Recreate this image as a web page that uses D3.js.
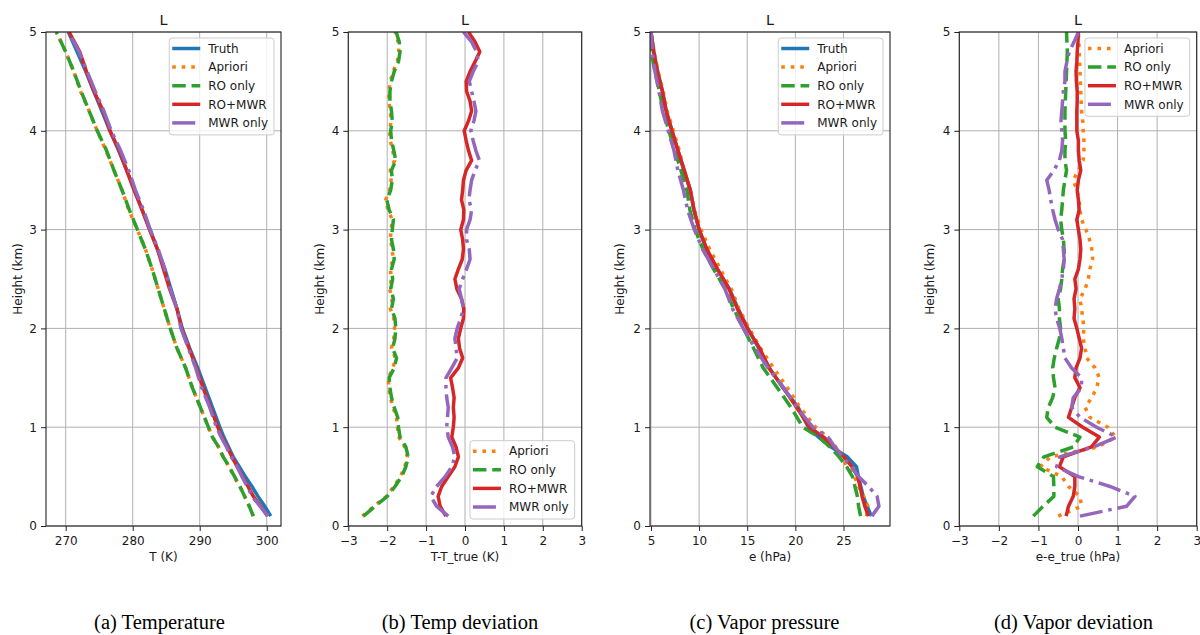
<!DOCTYPE html>
<html><head><meta charset="utf-8">
<script src="https://cdn.jsdelivr.net/npm/d3@7"></script>
<style>body{margin:0;background:#fff} text{font-family:"DejaVu Sans",sans-serif;fill:#1a1a1a} text.caption{font-family:"Liberation Serif","Times New Roman",serif;fill:#000}</style>
</head><body><svg id="chart" width="1200" height="635"></svg>
<script>
// ---------------- DATA ----------------
const heightsProf = [0.1,0.2,0.3,0.4,0.5,0.6,0.7,0.8,0.9,1.0,1.2,1.4,1.6,1.8,2.0,2.2,2.4,2.6,2.8,3.0,3.2,3.4,3.6,3.8,4.0,4.2,4.4,4.6,4.8,5.0];
const heightsDev = [0.1,0.2,0.3,0.4,0.5,0.6,0.7,0.8,0.9,1.0,1.1,1.2,1.3,1.4,1.5,1.6,1.7,1.8,1.9,2.0,2.1,2.2,2.3,2.4,2.5,2.6,2.7,2.8,2.9,3.0,3.1,3.2,3.3,3.4,3.5,3.6,3.7,3.8,3.9,4.0,4.1,4.2,4.3,4.4,4.5,4.6,4.7,4.8,4.9,5.0];

// (a) Temperature (K)
const tempTruth   = [300.6,299.7,298.7,297.8,296.8,295.9,295.0,294.3,293.6,293.0,291.9,290.8,289.7,288.5,287.4,286.6,285.7,284.8,283.7,282.6,281.4,280.3,279.1,277.9,276.6,275.4,274.2,273.0,271.7,270.4];
const tempApriori = [298.0,297.4,296.7,296.0,295.1,294.4,293.5,292.8,291.9,291.3,290.1,288.9,287.9,286.6,285.6,284.7,283.8,282.9,281.9,280.7,279.4,278.4,277.2,276.0,274.7,273.5,272.2,271.2,270.0,268.6];
const tempRO      = [298.0,297.4,296.7,296.0,295.2,294.4,293.5,292.8,291.9,291.3,290.1,288.9,287.9,286.6,285.6,284.7,283.8,282.9,281.9,280.7,279.5,278.4,277.2,276.1,274.7,273.5,272.3,271.2,270.0,268.6];
const tempRoMwr   = [300.1,299.1,298.0,297.2,296.4,295.6,294.8,294.1,293.3,292.7,291.6,290.5,289.5,288.4,287.3,286.6,285.5,284.6,283.7,282.5,281.4,280.2,279.1,278.0,276.6,275.6,274.2,273.1,272.1,270.5];
const tempMwr     = [300.2,299.0,297.8,297.1,296.3,295.6,294.7,294.0,293.2,292.5,291.5,290.3,289.4,288.3,287.2,286.6,285.6,284.8,283.8,282.6,281.6,280.4,279.4,278.2,276.8,275.7,274.4,273.2,272.0,270.4];

// (b) Temperature deviation (K)
const tDevApriori = [-2.64,-2.34,-2.02,-1.83,-1.66,-1.55,-1.48,-1.55,-1.70,-1.74,-1.76,-1.85,-1.92,-1.96,-1.97,-1.85,-1.79,-1.89,-1.83,-1.81,-1.83,-1.92,-1.87,-1.94,-1.89,-1.92,-1.85,-1.87,-1.92,-1.90,-1.87,-1.98,-2.04,-1.94,-1.90,-1.92,-1.81,-1.86,-1.92,-1.94,-1.90,-1.92,-1.96,-1.96,-1.92,-1.85,-1.74,-1.70,-1.72,-1.80];
const tDevRO      = [-2.61,-2.31,-2.00,-1.80,-1.63,-1.52,-1.46,-1.52,-1.67,-1.71,-1.73,-1.82,-1.89,-1.93,-1.95,-1.82,-1.76,-1.86,-1.80,-1.78,-1.80,-1.89,-1.84,-1.91,-1.86,-1.89,-1.82,-1.84,-1.89,-1.87,-1.84,-1.95,-2.01,-1.91,-1.87,-1.89,-1.78,-1.83,-1.89,-1.91,-1.87,-1.89,-1.93,-1.93,-1.89,-1.82,-1.71,-1.67,-1.69,-1.77];
const tDevRoMwr   = [-0.49,-0.64,-0.69,-0.60,-0.43,-0.26,-0.17,-0.23,-0.34,-0.30,-0.28,-0.30,-0.28,-0.32,-0.37,-0.17,-0.06,-0.14,-0.17,-0.11,-0.04,-0.03,-0.09,-0.21,-0.26,-0.17,-0.07,-0.04,-0.06,-0.11,-0.04,-0.03,-0.09,-0.06,-0.04,0.03,0.17,0.09,0.03,-0.02,0.09,0.17,0.13,0.04,0.03,0.13,0.26,0.38,0.26,0.09];
const tDevMwr     = [-0.43,-0.73,-0.88,-0.73,-0.51,-0.34,-0.26,-0.32,-0.43,-0.47,-0.45,-0.43,-0.47,-0.49,-0.49,-0.34,-0.20,-0.23,-0.26,-0.20,-0.11,-0.04,-0.09,-0.15,-0.06,0.04,0.13,0.11,0.04,0.04,0.13,0.17,0.10,0.13,0.17,0.26,0.37,0.28,0.21,0.15,0.23,0.28,0.23,0.17,0.11,0.21,0.34,0.30,0.17,-0.04];

// (c) Vapor pressure (hPa)
const vapTruth   = [27.9,27.45,27.05,26.8,26.55,26.35,25.4,23.7,22.4,21.35,20.3,18.7,17.3,16.2,15.05,14.05,13.15,11.9,10.75,10.0,9.45,9.1,8.4,7.8,7.2,6.6,6.2,5.7,5.3,5.0];
const vapApriori = [27.4,27.54,27.1,26.56,26.14,25.4,24.7,24.2,23.35,22.1,20.48,19.17,17.73,16.38,15.2,14.14,13.33,12.2,11.1,10.2,9.5,9.07,8.41,7.95,7.33,6.69,6.27,5.75,5.33,5.01];
const vapRO      = [26.77,26.57,26.44,26.19,25.93,25.32,24.54,23.58,22.45,20.77,19.55,18.12,16.66,15.66,14.61,13.58,12.71,11.51,10.4,9.59,9.04,8.73,8.11,7.47,6.87,6.27,5.89,5.41,5.03,4.71];
const vapRoMwr   = [27.6,27.21,26.93,26.72,26.47,25.88,25.03,24.04,22.94,21.47,20.14,18.75,17.25,16.29,15.02,13.97,13.1,11.91,10.82,10.01,9.48,9.08,8.47,7.81,7.17,6.57,6.18,5.65,5.28,5.01];
const vapMwr     = [27.95,28.68,28.49,27.61,26.56,25.81,24.94,24.09,23.38,21.82,20.14,18.79,17.14,15.83,14.59,13.47,12.68,11.53,10.38,9.5,8.81,8.37,7.79,7.39,6.79,6.19,5.83,5.41,5.14,5.01];

// (d) Vapor deviation (hPa)
const eDevApriori = [-0.50,0.09,0.05,-0.24,-0.41,-0.95,-0.70,0.50,0.95,0.75,0.30,0.18,0.35,0.47,0.54,0.43,0.22,0.18,0.13,0.15,0.12,0.09,0.05,0.18,0.26,0.30,0.37,0.35,0.29,0.20,0.09,0.05,0.03,-0.03,-0.12,0.01,0.13,0.15,0.15,0.13,0.12,0.09,0.08,0.07,0.06,0.05,0.04,0.03,0.02,0.01];
const eDevRO      = [-1.13,-0.88,-0.61,-0.61,-0.62,-1.03,-0.86,-0.12,0.05,-0.58,-0.79,-0.75,-0.64,-0.58,-0.62,-0.64,-0.60,-0.54,-0.47,-0.44,-0.47,-0.47,-0.50,-0.44,-0.41,-0.39,-0.35,-0.35,-0.37,-0.41,-0.44,-0.41,-0.39,-0.37,-0.33,-0.29,-0.33,-0.33,-0.31,-0.33,-0.33,-0.33,-0.32,-0.31,-0.30,-0.29,-0.28,-0.27,-0.28,-0.29];
const eDevRoMwr   = [-0.30,-0.24,-0.12,-0.08,-0.08,-0.47,-0.37,0.34,0.54,0.12,-0.24,-0.16,-0.08,0.05,-0.08,-0.05,0.05,0.09,0.03,-0.03,-0.10,-0.08,-0.10,-0.05,-0.08,0.01,0.05,0.07,0.05,0.01,-0.03,0.03,0.01,-0.02,0.01,0.07,0.03,0.01,0.01,-0.03,-0.03,-0.03,-0.02,-0.02,-0.04,-0.05,-0.03,-0.02,0.00,0.01];
const eDevMwr     = [0.05,1.23,1.44,0.81,0.01,-0.54,-0.46,0.39,0.98,0.47,0.05,-0.16,-0.12,0.09,0.09,-0.16,-0.33,-0.37,-0.41,-0.46,-0.54,-0.58,-0.54,-0.47,-0.41,-0.37,-0.35,-0.37,-0.39,-0.50,-0.58,-0.64,-0.69,-0.73,-0.79,-0.61,-0.47,-0.41,-0.39,-0.41,-0.43,-0.41,-0.39,-0.37,-0.33,-0.33,-0.28,-0.22,-0.10,0.01];

const yTicks = [0,1,2,3,4,5];
const xTicksTemp = [270,280,290,300];
const xTicksDev = [-3,-2,-1,0,1,2,3];
const xTicksVap = [5,10,15,20,25];
const panelTitle = "L";
const yLabel = "Height (km)";
const xLabels = ["T (K)","T-T_true (K)","e (hPa)","e-e_true (hPa)"];
const captions = ["(a) Temperature","(b) Temp deviation","(c) Vapor pressure","(d) Vapor deviation"];

// ---------------- STYLE ----------------
const LW = 3.5;
const style = {
  "Truth":    {color:"#1f77b4", dash:null},
  "Apriori":  {color:"#ff7f0e", dash:"3.6,5.9"},
  "RO only":  {color:"#2ca02c", dash:"13.5,5.8"},
  "RO+MWR":   {color:"#d62728", dash:null},
  "MWR only": {color:"#9467bd", dash:"23,5.8,3.6,5.8"}
};
const TOP = 32, BOTTOM = 526;

const panels = [
  {left:46, right:281, domain:[267.06,302.13], ticks:xTicksTemp, heights:heightsProf,
   series:[["Truth",tempTruth],["Apriori",tempApriori],["RO only",tempRO],["RO+MWR",tempRoMwr],["MWR only",tempMwr]],
   legend:"upper", ylabX:21.5, capX:159.5},
  {left:348.3, right:581.7, domain:[-3,3], ticks:xTicksDev, heights:heightsDev,
   series:[["Apriori",tDevApriori],["RO only",tDevRO],["RO+MWR",tDevRoMwr],["MWR only",tDevMwr]],
   legend:"lower", ylabX:323.5, capX:460},
  {left:650, right:890, domain:[4.9,29.83], ticks:xTicksVap, heights:heightsProf,
   series:[["Truth",vapTruth],["Apriori",vapApriori],["RO only",vapRO],["RO+MWR",vapRoMwr],["MWR only",vapMwr]],
   legend:"upper", ylabX:623.5, capX:764.5},
  {left:959.3, right:1196.7, domain:[-3,3], ticks:xTicksDev, heights:heightsDev,
   series:[["Apriori",eDevApriori],["RO only",eDevRO],["RO+MWR",eDevRoMwr],["MWR only",eDevMwr]],
   legend:"upper", ylabX:934, capX:1073.5}
];

const svg = d3.select("#chart");
const fmt = d3.format("");

panels.forEach((p, i) => {
  const x = d3.scaleLinear().domain(p.domain).range([p.left, p.right]);
  const y = d3.scaleLinear().domain([0,5]).range([BOTTOM, TOP]);
  const g = svg.append("g");

  const cid = "clip"+i;
  svg.append("clipPath").attr("id", cid).append("rect")
    .attr("x", p.left).attr("y", TOP).attr("width", p.right-p.left).attr("height", BOTTOM-TOP);

  // grid
  g.append("g").selectAll("line").data(p.ticks).join("line")
    .attr("x1", d=>x(d)).attr("x2", d=>x(d)).attr("y1", TOP).attr("y2", BOTTOM)
    .attr("stroke","#b0b0b0").attr("stroke-width",1);
  g.append("g").selectAll("line").data(yTicks).join("line")
    .attr("x1", p.left).attr("x2", p.right).attr("y1", d=>y(d)).attr("y2", d=>y(d))
    .attr("stroke","#b0b0b0").attr("stroke-width",1);

  // series
  const line = d3.line().x(d=>x(d[0])).y(d=>y(d[1]));
  const lg = g.append("g").attr("clip-path", `url(#${cid})`);
  p.series.forEach(([name, vals]) => {
    const pts = vals.map((v,k)=>[v, p.heights[k]]);
    const s = style[name];
    lg.append("path").datum(pts).attr("d", line)
      .attr("fill","none").attr("stroke", s.color).attr("stroke-width", LW)
      .attr("stroke-linejoin","round").attr("stroke-linecap","butt")
      .attr("stroke-dasharray", s.dash);
  });

  // axes
  const ax = g.append("g").attr("transform",`translate(0,${BOTTOM})`)
    .call(d3.axisBottom(x).tickValues(p.ticks).tickFormat(fmt).tickSize(5).tickPadding(5));
  const ay = g.append("g").attr("transform",`translate(${p.left},0)`)
    .call(d3.axisLeft(y).tickValues(yTicks).tickFormat(fmt).tickSize(5).tickPadding(4));
  [ax, ay].forEach(a => {
    a.select(".domain").remove();
    a.selectAll(".tick line").attr("stroke","#222").attr("stroke-width",1);
    a.selectAll(".tick text").attr("font-size",12).attr("font-family","DejaVu Sans").attr("fill","#1a1a1a");
  });

  // spines
  g.append("rect").attr("x",p.left).attr("y",TOP).attr("width",p.right-p.left).attr("height",BOTTOM-TOP)
    .attr("fill","none").attr("stroke","#222").attr("stroke-width",1.1);

  // title, labels
  const cx = (p.left+p.right)/2;
  g.append("text").attr("x",cx).attr("y",25).attr("text-anchor","middle").attr("font-size",14.4).text(panelTitle);
  g.append("text").attr("x",cx).attr("y",561).attr("text-anchor","middle").attr("font-size",12).text(xLabels[i]);
  g.append("text").attr("transform",`translate(${p.ylabX},${(TOP+BOTTOM)/2}) rotate(-90)`)
    .attr("text-anchor","middle").attr("font-size",12).text(yLabel);
  svg.append("text").attr("class","caption").attr("x",p.capX).attr("y",629).attr("text-anchor","middle")
    .attr("font-size",20.5).text(captions[i]);

  // legend
  const names = p.series.map(s=>s[0]);
  const spacing = 18.6;
  const hgt = 10.5 + spacing*(names.length-1) + 12;
  const lgd = g.append("g");
  const box = lgd.append("rect");
  const texts = [];
  let maxW = 0;
  names.forEach((n,k)=>{
    const t = lgd.append("text").attr("font-size",12).attr("dy","0.35em").text(n);
    maxW = Math.max(maxW, t.node().getComputedTextLength());
    texts.push(t);
  });
  const wid = 3 + 28 + 8 + maxW + 6;
  const right = p.right - 7;
  const left = right - wid;
  const top = p.legend === "upper" ? TOP + 6 : BOTTOM - 7 - hgt;
  box.attr("x",left).attr("y",top).attr("width",wid).attr("height",hgt).attr("rx",3)
    .attr("fill","#fff").attr("fill-opacity",0.8).attr("stroke","#cccccc").attr("stroke-width",1);
  names.forEach((n,k)=>{
    const cy = top + 10.5 + k*spacing;
    const s = style[n];
    lgd.append("line").attr("x1",left+3).attr("x2",left+31).attr("y1",cy).attr("y2",cy)
      .attr("stroke",s.color).attr("stroke-width",LW).attr("stroke-dasharray",s.dash);
    texts[k].attr("x", left+39).attr("y", cy);
  });
});
</script></body></html>
